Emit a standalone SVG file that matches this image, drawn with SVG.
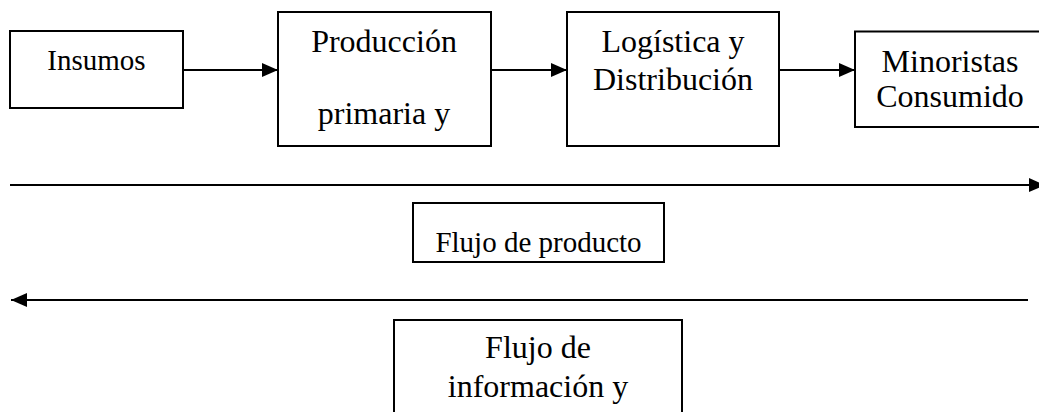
<svg xmlns="http://www.w3.org/2000/svg" width="1039" height="412" viewBox="0 0 1039 412">
<style>
.box{fill:#fff;stroke:#000;stroke-width:2}
.t{font-family:"Liberation Serif","Times New Roman",serif;font-size:32px;fill:#000;text-anchor:middle}
.s{font-size:29px}
.c{stroke:#000;stroke-width:2;fill:none}
</style>
<defs>
<marker id="ah" markerWidth="16" markerHeight="14" refX="16" refY="7" orient="auto" markerUnits="userSpaceOnUse">
<path d="M0,0 L16,7 L0,14 Z" fill="#000"/>
</marker>
</defs>
<g id="connectors">
<line class="c" x1="183" y1="70" x2="278" y2="70" marker-end="url(#ah)"/>
<line class="c" x1="491" y1="70" x2="567" y2="70" marker-end="url(#ah)"/>
<line class="c" x1="779" y1="70" x2="855" y2="70" marker-end="url(#ah)"/>
<line class="c" x1="10" y1="185" x2="1045" y2="185" marker-end="url(#ah)"/>
<line class="c" x1="1028" y1="300" x2="11" y2="300" marker-end="url(#ah)"/>
</g>
<g id="insumos">
<rect class="box" x="10" y="31" width="173" height="77"/>
<text class="t s" x="96.5" y="70">Insumos</text>
</g>
<g id="produccion">
<rect class="box" x="278" y="12" width="213" height="134"/>
<text class="t" x="384" y="52">Producción</text>
<text class="t" x="384" y="124">primaria y</text>
</g>
<g id="logistica">
<rect class="box" x="567" y="12" width="212" height="134"/>
<text class="t" x="673" y="52">Logística y</text>
<text class="t" x="673" y="90">Distribución</text>
</g>
<g id="minoristas">
<rect class="box" x="855" y="31.5" width="190" height="95.5"/>
<text class="t" x="950" y="72">Minoristas</text>
<text class="t" x="950" y="107">Consumido</text>
</g>
<g id="flujo-producto">
<rect class="box" x="413" y="203" width="251" height="59"/>
<text class="t s" x="538.5" y="252">Flujo de producto</text>
</g>
<g id="flujo-informacion">
<rect class="box" x="394" y="320" width="288" height="100"/>
<text class="t" x="538" y="358">Flujo de</text>
<text class="t" x="538" y="397">información y</text>
</g>
</svg>
